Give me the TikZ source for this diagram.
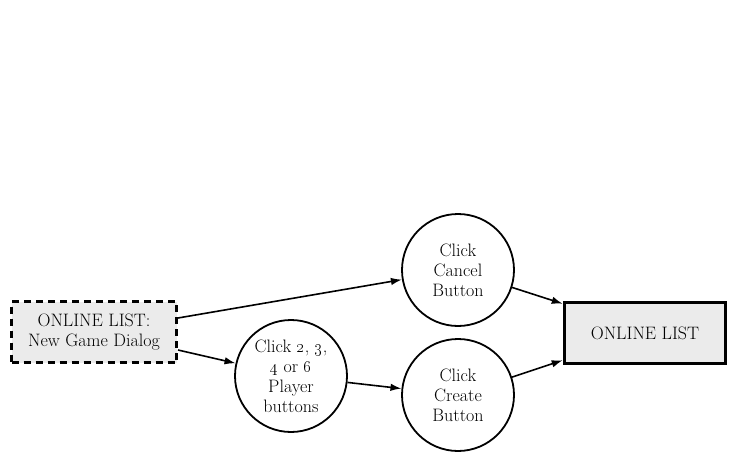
\documentclass[tikz,border=0pt]{standalone}
\usetikzlibrary{arrows.meta}
\begin{document}
\begin{tikzpicture}[x=1pt,y=-1pt,
  every node/.style={font=\fontsize{18}{20}\selectfont, align=center, text=black},
  dialogbox/.style={draw, fill=black!8, line width=3pt, dash pattern=on 7pt off 5pt,
    minimum width=165pt, minimum height=61pt, inner sep=0pt},
  targetbox/.style={draw, fill=black!8, line width=3.5pt,
    minimum width=161pt, minimum height=61pt, inner sep=0pt},
  action/.style={draw, circle, fill=white, line width=1.8pt, minimum size=112pt, inner sep=0pt},
  flow/.style={line width=1.6pt, -{Latex[length=11pt,width=7.5pt]}}]
  \useasboundingbox (0,0) rectangle (739,463);

  \node[dialogbox] (dialog) at (94,332) {ONLINE LIST:\\New Game Dialog};
  \node[action] (players) at (291,376) {Click \oldstylenums{2}, \oldstylenums{3},\\\oldstylenums{4} or \oldstylenums{6}\\Player\\buttons};
  \node[action] (cancel) at (458,270) {Click\\Cancel\\Button};
  \node[action] (create) at (458,395) {Click\\Create\\Button};
  \node[targetbox] (online) at (645,333) {ONLINE LIST};

  \draw[flow] ([yshift=14pt]dialog.east) -- (cancel);
  \draw[flow] ([yshift=-18pt]dialog.east) -- (players);
  \draw[flow] (players) -- (create);
  \coordinate (intop) at ([yshift=-3pt]online.north west);
  \coordinate (inbot) at ([yshift=5pt]online.south west);
  \draw[flow] (cancel) -- (intop);
  \draw[flow] (create) -- (inbot);
\end{tikzpicture}
\end{document}
